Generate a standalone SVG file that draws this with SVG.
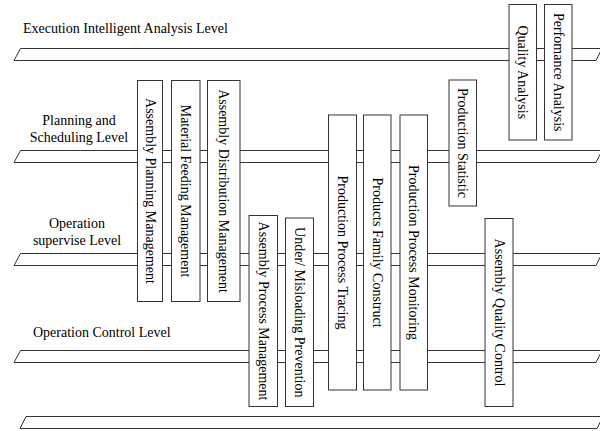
<svg xmlns="http://www.w3.org/2000/svg" width="600" height="431" viewBox="0 0 600 431">
<style>
.band{fill:#fff;stroke:#333;stroke-width:1}
.box{fill:#fff;stroke:#333;stroke-width:1}
text{font-family:"Liberation Serif","Times New Roman",serif;font-size:14px;fill:#000}
.v{text-anchor:middle;dominant-baseline:central}
.c{text-anchor:middle}
</style>
<rect width="600" height="431" fill="#fff"/>
<g id="connectors">
<polygon class="band" points="20.5,48.5 602,48.5 596,60.5 14,60.5"/>
<polygon class="band" points="20.5,150.5 602,150.5 596,162.5 14,162.5"/>
<polygon class="band" points="20.5,253.5 602,253.5 596,265.5 14,265.5"/>
<polygon class="band" points="20.5,350.5 602,350.5 596,362.5 14,362.5"/>
<polygon class="band" points="26,416.5 603,416.5 597,428.5 20,428.5"/>
</g>
<g id="labels">
<text x="23" y="33">Execution Intelligent Analysis Level</text>
<text class="c" x="79" y="125">Planning and</text>
<text class="c" x="79" y="141.5">Scheduling Level</text>
<text class="c" x="77" y="228">Operation</text>
<text class="c" x="77" y="245">supervise Level</text>
<text x="33" y="337">Operation Control Level</text>
</g>
<g id="n1"><rect class="box" x="137.5" y="80.5" width="25" height="221"/><text class="v" transform="translate(150,191) rotate(90)">Assembly Planning Management</text></g>
<g id="n2"><rect class="box" x="171.5" y="80.5" width="28.5" height="221"/><text class="v" transform="translate(185.75,191) rotate(90)">Material Feeding Management</text></g>
<g id="n3"><rect class="box" x="207.5" y="80.5" width="32.5" height="221"/><text class="v" transform="translate(223.75,191) rotate(90)">Assembly Distribution Management</text></g>
<g id="n4"><rect class="box" x="249" y="215.5" width="28.5" height="191"/><text class="v" transform="translate(263.25,311) rotate(90)">Assembly Process Management</text></g>
<g id="n5"><rect class="box" x="285.5" y="218" width="28" height="188.5"/><text class="v" transform="translate(299.5,312.25) rotate(90)">Under/ Misloading Prevention</text></g>
<g id="n6"><rect class="box" x="328.5" y="115" width="28" height="275"/><text class="v" transform="translate(342.5,252.5) rotate(90)">Production Process Tracing</text></g>
<g id="n7"><rect class="box" x="363.5" y="115" width="27.5" height="275"/><text class="v" transform="translate(377.25,252.5) rotate(90)">Products Family Construct</text></g>
<g id="n8"><rect class="box" x="400" y="115" width="27.5" height="275"/><text class="v" transform="translate(413.75,252.5) rotate(90)">Production Process Monitoring</text></g>
<g id="n9"><rect class="box" x="449" y="80" width="27.5" height="126"/><text class="v" transform="translate(462.75,143) rotate(90)">Production Statistic</text></g>
<g id="n10"><rect class="box" x="509" y="4.5" width="27.5" height="135.5"/><text class="v" transform="translate(522.75,72.25) rotate(90)">Quality Analysis</text></g>
<g id="n11"><rect class="box" x="544.5" y="4.5" width="27.5" height="135.5"/><text class="v" transform="translate(558.25,72.25) rotate(90)">Perfomance Analysis</text></g>
<g id="n12"><rect class="box" x="485" y="218.5" width="28" height="188"/><text class="v" transform="translate(499,312.5) rotate(90)">Assembly Quality Control</text></g>
</svg>
